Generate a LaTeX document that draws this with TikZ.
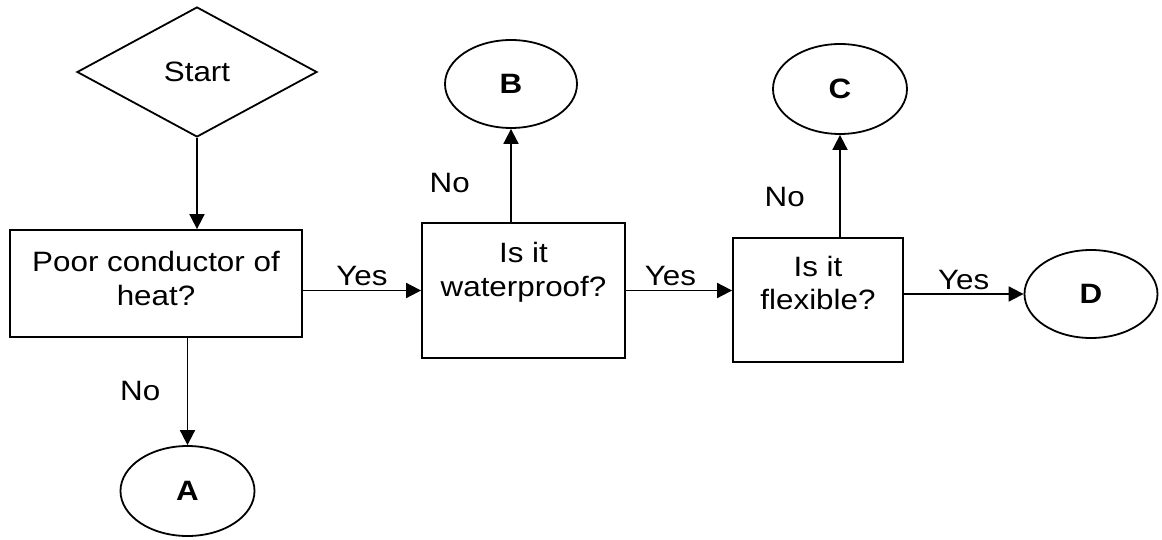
\documentclass[tikz,border=0pt]{standalone}
\usepackage{fontspec}
\setmainfont[FakeStretch=1.12]{Liberation Sans}
\usetikzlibrary{shapes.geometric,arrows.meta}

\begin{document}
\begin{tikzpicture}[x=1pt, y=-1pt, line width=1.8pt,
                    font=\fontsize{28}{33.5}\selectfont,
                    every edge/.style={draw,-{Triangle[length=15pt,width=15pt]}},
                    start node/.style={diamond,draw,aspect=1.85,inner sep=0pt,minimum width=240pt,minimum height=130pt},
                    question node/.style={rectangle,draw,inner sep=0pt},
                    question text/.style={align=center,inner sep=0pt},
                    end node/.style={ellipse,draw,inner sep=0pt,minimum width=134pt,minimum height=90pt,font=\fontsize{28}{33.5}\selectfont\bfseries}]

  \useasboundingbox (0,0) rectangle (1162,540);

  \node[start node] (start) at (197,72) {Start};

  \node[question node, minimum width=292pt, minimum height=107pt] (conductor) at (156,283.5) {};
  \node[question text] (conductor txt) at ([yshift=5pt]conductor.center) {Poor conductor of\\heat?};

  \node[question node, minimum width=203pt, minimum height=135pt] (waterproof) at (523.5,290.5) {};
  \node[question text] (waterproof txt) at ([yshift=18pt]waterproof.center) {Is it\\waterproof?};

  \node[question node, minimum width=170pt, minimum height=124pt] (flexible) at (818,300) {};
  \node[question text] (flexible txt) at ([yshift=17pt]flexible.center) {Is it\\flexible?};

  \node[end node] (A) at (187.5,491) {A};
  \node[end node, minimum width=132pt, minimum height=88pt] (B) at (511,84) {B};
  \node[end node] (C) at (840,89) {C};
  \node[end node, minimum width=133pt, minimum height=88pt] (D) at (1091,294) {D};

  \path

    (start.south) edge (start.south |- conductor.north)

    (A.north |- conductor.south) edge node [left=23pt] {No} (A.north)
    (conductor.east |- waterproof.west) edge node [above] {Yes} (waterproof.west)

    (B.south |- waterproof.north) edge node [left=37pt, pos=0.42] {No} (B.south)
    (waterproof.east) edge node [above, pos=0.42] {Yes} (waterproof.east -| flexible.west)

    (C.south |- flexible.north) edge node [left=31pt, pos=0.39] {No} (C.south)
    (flexible.east |- D.west) edge node [above] {Yes} (D.west);

\end{tikzpicture}
\end{document}
